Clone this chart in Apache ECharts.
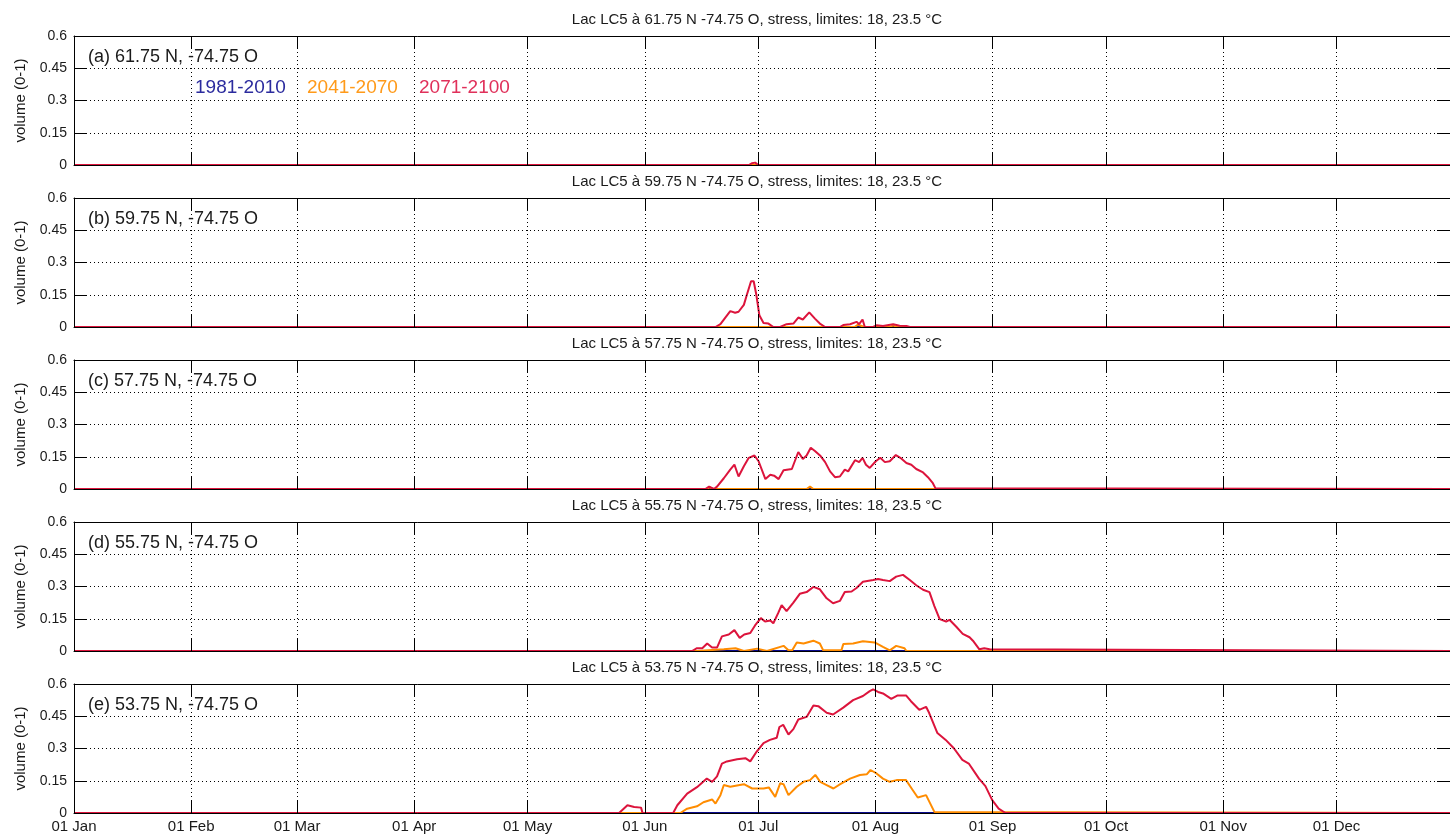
<!DOCTYPE html>
<html>
<head>
<meta charset="utf-8">
<script src="https://cdn.jsdelivr.net/npm/echarts@6/dist/echarts.min.js"></script>
<style>
  html, body { margin: 0; padding: 0; background: #fff; }
  #chart { width: 1450px; height: 835px; }
</style>
</head>
<body>
<div id="chart"></div>
<script>
// Month ticks (day of year, 0 = 01 Jan) and their labels
const monthDays = [0, 31, 59, 90, 120, 151, 181, 212, 243, 273, 304, 334];
const monthLabels = ['01 Jan', '01 Feb', '01 Mar', '01 Apr', '01 May', '01 Jun',
                     '01 Jul', '01 Aug', '01 Sep', '01 Oct', '01 Nov', '01 Dec'];
const yTicks = [0, 0.15, 0.3, 0.45, 0.6];

// Grid points (latitude N, longitude O) of the five panels
const panelTags = ['(a)', '(b)', '(c)', '(d)', '(e)'];
const lats = [61.75, 59.75, 57.75, 55.75, 53.75];
const lon = -74.75;

const periods = ['1981-2010', '2041-2070', '2071-2100'];

// Stressed volume fraction, [day of year, value]
// (a) 61.75 N
const hist_a = [[0, 0], [364, 0]];
const mid_a  = [[0, 0], [364, 0]];
const late_a = [[0, 0], [178.5, 0], [179.3, 0.008], [180.2, 0.011], [181, 0], [364, 0]];

// (b) 59.75 N
const hist_b = [[0, 0], [364, 0]];
const mid_b  = [[0, 0], [206.5, 0], [207.3, 0.01], [208.2, 0.006], [209, 0], [216, 0], [216.7, 0.008], [217.5, 0], [364, 0]];
const late_b = [[0, 0], [169.7, 0], [171, 0.013], [172.3, 0.044], [173.6, 0.074], [174.9, 0.066], [175.8, 0.071],
  [177.2, 0.103], [178, 0.15], [179.1, 0.213], [179.8, 0.213], [180.5, 0.15], [181.3, 0.055], [182.4, 0.019],
  [183.7, 0.016], [185, 0], [186.8, 0], [188.5, 0.013], [190.3, 0.016], [191.6, 0.044], [192.8, 0.035],
  [194.5, 0.068], [196, 0.039], [197.3, 0.016], [198.7, 0], [202.6, 0], [203.5, 0.009], [205.3, 0.013],
  [207, 0.024], [207.7, 0.013], [208.6, 0.035], [209.2, 0], [211.4, 0], [212.3, 0.008], [214, 0.005],
  [216.7, 0.013], [218.4, 0.006], [220.2, 0.005], [221.1, 0], [364, 0]];

// (c) 57.75 N
const hist_c = [[0, 0], [364, 0]];
const mid_c  = [[0, 0], [167.5, 0], [168.2, 0.008], [169, 0], [193.8, 0], [194.7, 0.011], [195.6, 0], [364, 0]];
const late_c = [[0, 0], [167, 0], [168, 0.011], [169.3, 0], [170.1, 0.011], [171.9, 0.05], [173.6, 0.09],
  [174.7, 0.113], [175.8, 0.058], [177.2, 0.106], [178.5, 0.145], [180, 0.156], [181.1, 0.129], [182.9, 0.046],
  [184.2, 0.066], [185.2, 0.062], [186.4, 0.046], [187.7, 0.087], [189.9, 0.093], [191.6, 0.172], [192.8, 0.14],
  [193.8, 0.156], [194.9, 0.192], [196, 0.177], [197.5, 0.153], [198.7, 0.125], [200, 0.082], [201.3, 0.055],
  [202.6, 0.058], [203.9, 0.09], [204.8, 0.082], [206.6, 0.134], [207.7, 0.125], [208.6, 0.145], [209.5, 0.113],
  [210.5, 0.098], [212.1, 0.129], [213.3, 0.145], [214.5, 0.125], [215.8, 0.129], [217.4, 0.158], [218.6, 0.145],
  [220.2, 0.121], [221.5, 0.113], [222.8, 0.093], [224.6, 0.077], [225.9, 0.055], [227.2, 0.027], [227.9, 0.003],
  [228.3, 0], [364, 0]];

// (d) 55.75 N
const hist_d = [[0, 0], [364, 0]];
const mid_d  = [[0, 0], [164.8, 0], [171.9, 0.008], [175, 0.013], [177.2, 0], [180.7, 0.011], [183.3, 0],
  [187.7, 0.024], [189, 0.003], [190, 0.003], [191.2, 0.04], [193, 0.035], [195.6, 0.048], [197.3, 0.035],
  [198.2, 0.003], [203, 0.003], [203.5, 0.032], [206.1, 0.035], [208.7, 0.045], [211.8, 0.04], [214, 0.019],
  [215.8, 0.003], [217.5, 0.024], [219.7, 0.013], [220.2, 0], [364, 0]];
const late_d = [[0, 0], [163.5, 0], [164.8, 0.013], [166.2, 0.013], [167.5, 0.035], [168.8, 0.016], [170.1, 0.016],
  [171.4, 0.068], [173.2, 0.077], [174.7, 0.097], [176.1, 0.061], [177.3, 0.077], [178.9, 0.084], [180.2, 0.12],
  [181.7, 0.153], [182.8, 0.137], [184.2, 0.142], [185, 0.129], [186.3, 0.177], [187.2, 0.213], [188.5, 0.185],
  [190.3, 0.225], [192, 0.266], [193.8, 0.274], [195.6, 0.298], [197.3, 0.287], [199.1, 0.245], [200.8, 0.222],
  [202.6, 0.233], [203.9, 0.274], [205.7, 0.277], [207, 0.293], [208.7, 0.322], [211.4, 0.33], [212.7, 0.335],
  [214, 0.33], [215.8, 0.325], [217.5, 0.346], [219.3, 0.354], [221.1, 0.33], [222.8, 0.306], [224.6, 0.285],
  [226.3, 0.274], [227.6, 0.209], [229, 0.148], [230.7, 0.137], [231.6, 0.145], [233.4, 0.113], [235.1, 0.08],
  [236.9, 0.064], [237.8, 0.048], [239.5, 0.008], [240.8, 0.013], [242.2, 0.008], [242.6, 0], [364, 0]];

// (e) 53.75 N
const hist_e = [[0, 0], [364, 0]];
const mid_e  = [[0, 0], [160.4, 0], [162.2, 0.02], [164.8, 0.031], [166.5, 0.05], [168.8, 0.063], [169.7, 0.044],
  [171, 0.083], [171.9, 0.13], [173.6, 0.122], [177.2, 0.134], [179.4, 0.114], [182.4, 0.114], [183.8, 0.119],
  [185.5, 0.075], [186.8, 0.138], [187.7, 0.134], [189, 0.083], [191.2, 0.122], [193, 0.145], [194.7, 0.153],
  [196.1, 0.177], [197.4, 0.145], [199.1, 0.13], [200.9, 0.114], [202.7, 0.134], [205.3, 0.16], [207.9, 0.177],
  [209.7, 0.18], [210.7, 0.2], [212.3, 0.184], [214, 0.16], [215.8, 0.145], [217.6, 0.153], [220.1, 0.153],
  [221.9, 0.106], [223.2, 0.072], [225.4, 0.083], [227.6, 0.005], [228, 0], [364, 0]];
const late_e = [[0, 0], [144.2, 0], [146.4, 0.036], [148.2, 0.028], [150, 0.025], [150.4, 0], [158.5, 0],
  [159.6, 0.036], [162.2, 0.09], [164.8, 0.12], [167.4, 0.16], [168.8, 0.145], [170.1, 0.17], [171.4, 0.23],
  [172.7, 0.24], [175.4, 0.25], [177.6, 0.255], [178.9, 0.24], [180.6, 0.286], [182.4, 0.325], [184.1, 0.34],
  [185.9, 0.35], [186.6, 0.4], [187.6, 0.41], [189, 0.365], [190.3, 0.39], [191.6, 0.435], [193.8, 0.447],
  [195.6, 0.5], [196.9, 0.497], [199.1, 0.466], [200.8, 0.458], [203.5, 0.49], [206.1, 0.525], [208.7, 0.544],
  [210.5, 0.567], [211.4, 0.575], [212.7, 0.563], [214, 0.556], [216.2, 0.531], [217.9, 0.547], [220.1, 0.547],
  [221.4, 0.52], [223.6, 0.48], [225.4, 0.494], [226.2, 0.466], [228.4, 0.372], [230.6, 0.34], [232.8, 0.3],
  [235, 0.247], [236.7, 0.23], [239.4, 0.16], [241.1, 0.125], [242.9, 0.06], [244.6, 0.02], [246.4, 0], [364, 0]];

const histData = [hist_a, hist_b, hist_c, hist_d, hist_e];
const midData  = [mid_a, mid_b, mid_c, mid_d, mid_e];
const lateData = [late_a, late_b, late_c, late_d, late_e];

// ---- layout and styling ----
const FONT = '"Liberation Sans", Arial, sans-serif';
const TEXT = '#1a1a1a';
const COLORS = ['#0a0a8c', '#ff8c00', '#dc143c'];
const LEGEND_COLORS = ['#2b2b9e', '#ff9a1a', '#e0305a'];
const LEFT = 74, WIDTH = 1382, HEIGHT = 129, TOP0 = 36, STEP = 162;
const X_MAX = 364;
const dotted = { color: '#000', width: 1, type: [1, 3] };
const frameLine = { show: true, onZero: false, lineStyle: { color: '#000', width: 1 } };
const tickStyle = () => ({ show: true, inside: true, length: 13, lineStyle: { color: '#000', width: 1 } });

const chart = echarts.init(document.getElementById('chart'), null, { renderer: 'canvas' });

const grids = [], xAxes = [], yAxes = [], series = [], titles = [], graphics = [];

lats.forEach((lat, i) => {
  const top = TOP0 + i * STEP;
  const last = i === lats.length - 1;
  grids.push({ left: LEFT, top: top, width: WIDTH, height: HEIGHT, show: false });

  // bottom axis: month ticks, dotted vertical grid, labels on the last panel only
  const bottomTick = tickStyle(); bottomTick.customValues = monthDays;
  xAxes.push({
    type: 'value', gridIndex: i, min: 0, max: X_MAX, position: 'bottom', z: 6,
    axisLine: frameLine,
    axisTick: bottomTick,
    axisLabel: { show: last, customValues: monthDays, margin: 6, color: TEXT, fontSize: 15, fontFamily: FONT,
                 formatter: v => monthLabels[monthDays.indexOf(v)] },
    splitLine: { show: true, lineStyle: dotted }
  });
  // top axis: frame edge with mirrored tick marks
  const topTick = tickStyle(); topTick.customValues = monthDays;
  xAxes.push({
    type: 'value', gridIndex: i, min: 0, max: X_MAX, position: 'top', z: 6,
    axisLine: frameLine,
    axisTick: topTick,
    axisLabel: { show: false }, splitLine: { show: false }
  });
  yAxes.push({
    type: 'value', gridIndex: i, min: 0, max: 0.6, interval: 0.15, position: 'left', z: 6,
    name: 'volume (0-1)', nameLocation: 'middle', nameGap: 43,
    nameTextStyle: { color: TEXT, fontSize: 15, fontFamily: FONT },
    axisLine: frameLine,
    axisTick: tickStyle(),
    axisLabel: { color: TEXT, fontSize: 14, fontFamily: FONT, margin: 7,
                 formatter: v => String(+v.toFixed(2)) },
    splitLine: { show: true, lineStyle: dotted }
  });
  // right axis: frame edge with mirrored tick marks
  yAxes.push({
    type: 'value', gridIndex: i, min: 0, max: 0.6, interval: 0.15, position: 'right', z: 6,
    axisLine: frameLine,
    axisTick: tickStyle(),
    axisLabel: { show: false }, splitLine: { show: false }
  });

  [histData[i], midData[i], lateData[i]].forEach((d, k) => {
    series.push({
      name: periods[k], type: 'line', xAxisIndex: 2 * i, yAxisIndex: 2 * i,
      data: d, symbol: 'none', showSymbol: false,
      lineStyle: { color: COLORS[k], width: 2 }, itemStyle: { color: COLORS[k] },
      z: 3 + k
    });
  });

  titles.push({
    text: 'Lac LC5 à ' + lat + ' N ' + lon + ' O, stress, limites: 18, 23.5 °C',
    left: 757, top: top - 24, textAlign: 'center', padding: 0,
    textStyle: { color: TEXT, fontSize: 15, fontWeight: 'normal', fontFamily: FONT }
  });

  graphics.push({
    type: 'text', left: LEFT + 14, top: top + 12, z: 10,
    style: { text: panelTags[i] + ' ' + lat + ' N, ' + lon + ' O', fill: TEXT, fontSize: 18, fontFamily: FONT }
  });
});

// period legend inside the first panel
const legendX = [195, 307, 419];
periods.forEach((p, k) => {
  graphics.push({
    type: 'text', left: legendX[k], top: TOP0 + 42, z: 10,
    style: { text: p, fill: LEGEND_COLORS[k], fontSize: 19, fontFamily: FONT }
  });
});

chart.setOption({
  animation: false,
  backgroundColor: '#fff',
  title: titles,
  grid: grids,
  xAxis: xAxes,
  yAxis: yAxes,
  series: series,
  graphic: graphics
});
</script>
</body>
</html>
